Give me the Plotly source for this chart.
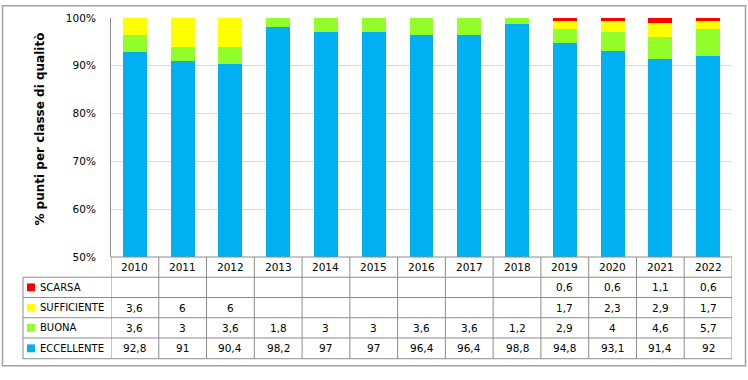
import plotly.graph_objects as go

years = ["2010", "2011", "2012", "2013", "2014", "2015", "2016", "2017", "2018", "2019", "2020", "2021", "2022"]
eccellente = [92.8, 91, 90.4, 98.2, 97, 97, 96.4, 96.4, 98.8, 94.8, 93.1, 91.4, 92]
buona = [3.6, 3, 3.6, 1.8, 3, 3, 3.6, 3.6, 1.2, 2.9, 4, 4.6, 5.7]
sufficiente = [3.6, 6, 6, None, None, None, None, None, None, 1.7, 2.3, 2.9, 1.7]
scarsa = [None, None, None, None, None, None, None, None, None, 0.6, 0.6, 1.1, 0.6]

series_names = ["ECCELLENTE", "BUONA", "SUFFICIENTE", "SCARSA"]
series_values = [eccellente, buona, sufficiente, scarsa]
series_colors = ["#00B0F0", "#92FF2A", "#FFFF00", "#FF0000"]
y_ticks = [50, 60, 70, 80, 90, 100]
y_title = "% punti per classe di qualitò"

W, H = 748, 380
L, R, T, B = 111, 732, 15, 257  # plot area in pixels
pw, ph = R - L, B - T

def px(x):
    return (x - L) / pw

def py(y):
    return (B - y) / ph

FONT = "DejaVu Sans"
GRID = "#D9D9D9"
LINE = "#8C8C8C"

fig = go.Figure()
for name, vals, col in zip(series_names, series_values, series_colors):
    fig.add_trace(go.Bar(
        x=years, y=[v if v is not None else 0 for v in vals], name=name,
        marker=dict(color=col, line=dict(width=0)), width=0.5, showlegend=False,
    ))

shapes = []
annotations = []

# outer border
shapes.append(dict(type="rect", xref="paper", yref="paper",
                   x0=px(2.5), x1=px(745.5), y0=py(2.5), y1=py(367),
                   line=dict(color="#A0A0A0", width=1.5), layer="below"))

# table rows (pixel y of boundaries)
row_y = [257, 277.5, 298, 318.5, 339, 360]
shapes.append(dict(type="line", xref="paper", yref="paper", x0=0, x1=1,
                   y0=py(row_y[0]), y1=py(row_y[0]), line=dict(color=LINE, width=1)))
for yy in row_y[1:]:
    shapes.append(dict(type="line", xref="paper", yref="paper", x0=px(23), x1=1,
                       y0=py(yy), y1=py(yy), line=dict(color=LINE, width=1)))
shapes.append(dict(type="line", xref="paper", yref="paper", x0=px(23), x1=px(23),
                   y0=py(row_y[1]), y1=py(row_y[-1]), line=dict(color=LINE, width=1)))
for i in range(len(years) + 1):
    shapes.append(dict(type="line", xref="x", yref="paper", x0=i - 0.5, x1=i - 0.5,
                       y0=py(row_y[0]), y1=py(row_y[-1]), line=dict(color=LINE, width=1)))

def fmt(v):
    if v is None:
        return ""
    if float(v).is_integer():
        return str(int(v))
    return str(v).replace(".", ",")

for i, yr in enumerate(years):
    annotations.append(dict(x=i, y=py((row_y[0] + row_y[1]) / 2), xref="x", yref="paper",
                            text=yr, showarrow=False, font=dict(family=FONT, size=10.5, color="#000000"),
                            xanchor="center", yanchor="middle"))

order = [3, 2, 1, 0]
for r, si in enumerate(order):
    yc = (row_y[r + 1] + row_y[r + 2]) / 2
    shapes.append(dict(type="rect", xref="paper", yref="paper",
                       x0=px(27), x1=px(35), y0=py(yc - 4), y1=py(yc + 4),
                       fillcolor=series_colors[si], line=dict(width=0)))
    annotations.append(dict(x=px(38), y=py(yc), xref="paper", yref="paper",
                            text=series_names[si], showarrow=False,
                            font=dict(family=FONT, size=10, color="#000000"),
                            xanchor="left", yanchor="middle"))
    for i, v in enumerate(series_values[si]):
        t = fmt(v)
        if t:
            annotations.append(dict(x=i, y=py(yc), xref="x", yref="paper", text=t,
                                    showarrow=False, font=dict(family=FONT, size=10.5, color="#000000"),
                                    xanchor="center", yanchor="middle"))

annotations.append(dict(x=px(40), y=py(128), xref="paper", yref="paper", text="<b>" + y_title + "</b>",
                        textangle=-90, showarrow=False,
                        font=dict(family=FONT, size=12, color="#000000"),
                        xanchor="center", yanchor="middle"))

fig.update_layout(
    width=W, height=H,
    margin=dict(l=L, r=W - R, t=T, b=H - B, pad=0),
    barmode="stack",
    bargap=0.5,
    plot_bgcolor="white", paper_bgcolor="white",
    font=dict(family=FONT, size=10, color="#000000"),
    xaxis=dict(type="category", range=[-0.5, len(years) - 0.5], showticklabels=False,
               showgrid=False, zeroline=False, ticks="", showline=False),
    yaxis=dict(range=[50, 100], tickvals=y_ticks, ticktext=[f"{v}%" for v in y_ticks],
               showgrid=True, gridcolor=GRID, gridwidth=1, zeroline=False,
               showline=True, linecolor=LINE, linewidth=1, ticks="", ticklabelstandoff=12,
               tickfont=dict(family=FONT, size=10.5, color="#000000")),
    shapes=shapes,
    annotations=annotations,
)

fig.write_html("out.html", post_script="document.body.style.margin='0';",
               config={"displayModeBar": False})
